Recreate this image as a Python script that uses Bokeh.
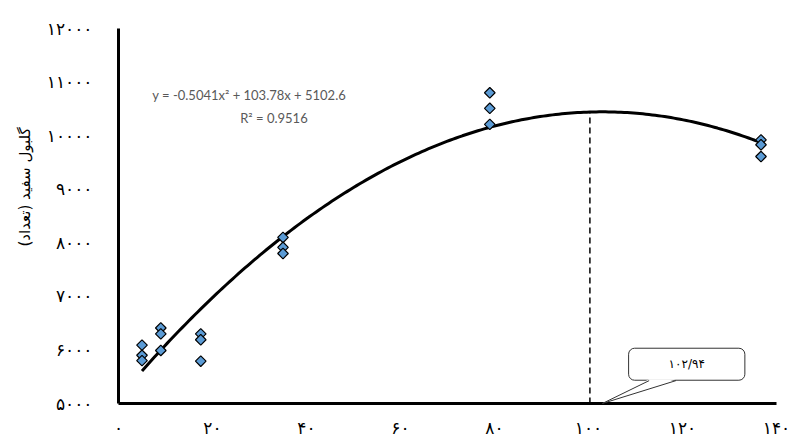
import numpy as np
from bokeh.plotting import figure
from bokeh.models import Label, FixedTicker, ColumnDataSource, Title
from bokeh.embed import file_html
from bokeh.resources import INLINE

# ---- data ----
dose = [5, 5, 5, 9, 9, 9, 17.5, 17.5, 17.5, 35, 35, 35, 79, 79, 79, 136.7, 136.7, 136.7]
wbc = [6090, 5900, 5800, 6410, 6300, 5990, 6300, 6190, 5790,
       8100, 7915, 7800, 10800, 10510, 10210, 9920, 9830, 9610]

# trendline as printed on the chart: y = a x^2 + b x + c
coef_a, coef_b, coef_c = -0.5041, 103.78, 5102.6
r_squared = "0.9516"
peak_label = "۱۰۲/۹۴"
peak_x = 102.94
dashed_x = 100.3

x_ticks = [0, 20, 40, 60, 80, 100, 120, 140]
x_labels = ["۰", "۲۰", "۴۰", "۶۰", "۸۰", "۱۰۰", "۱۲۰", "۱۴۰"]
y_ticks = [5000, 6000, 7000, 8000, 9000, 10000, 11000, 12000]
y_labels = ["۵۰۰۰", "۶۰۰۰", "۷۰۰۰", "۸۰۰۰", "۹۰۰۰", "۱۰۰۰۰", "۱۱۰۰۰", "۱۲۰۰۰"]
y_title = "گلبول سفید (تعداد)"

FA_FONT = "DejaVu Sans"

p = figure(width=792, height=440, x_range=(0, 140), y_range=(5000, 12000),
           output_backend="svg", toolbar_location=None,
           min_border_left=118, min_border_right=16,
           min_border_top=28, min_border_bottom=35)
p.outline_line_color = None
p.grid.visible = False
p.background_fill_color = "white"

for ax, ticks, labels in ((p.xaxis, x_ticks, x_labels), (p.yaxis, y_ticks, y_labels)):
    ax.ticker = FixedTicker(ticks=ticks)
    ax.major_label_overrides = {t: l for t, l in zip(ticks, labels)}
    ax.axis_line_width = 3
    ax.axis_line_color = "black"
    ax.major_tick_line_color = None
    ax.minor_tick_line_color = None
    ax.major_tick_out = 0
    ax.major_tick_in = 0
    ax.minor_tick_out = 0
    ax.major_label_text_font = FA_FONT
    ax.major_label_text_font_size = "17px"
    ax.major_label_text_color = "black"
p.yaxis.major_label_standoff = 26
p.xaxis.major_label_standoff = 14

# y axis title as a side title, placed higher than centre as in the reference
p.add_layout(Title(text=y_title, align="left", offset=157, standoff=19,
                   text_font=FA_FONT, text_font_size="15px", text_font_style="normal",
                   text_color="black"), "left")

# trend line
tx = np.linspace(min(dose), max(dose), 200)
ty = coef_a * tx ** 2 + coef_b * tx + coef_c
p.line(tx, ty, line_color="black", line_width=3)

# dashed vertical line from axis to the curve peak
peak_y = coef_a * peak_x ** 2 + coef_b * peak_x + coef_c
p.segment(x0=[dashed_x], y0=[5000], x1=[dashed_x], y1=[peak_y],
          line_color="black", line_width=1.5, line_dash="6 4")

# data points
src = ColumnDataSource(dict(x=dose, y=wbc))
p.scatter("x", "y", source=src, marker="square", angle=np.pi / 4, size=7.5,
          fill_color="#5B9BD5", line_color="black", line_width=1.2)

# equation text
p.add_layout(Label(x=7.2, y=10756, text=f"y = {coef_a}x² + {coef_b}x + {coef_c}",
                   text_font="Lato", text_font_size="13px", text_color="#595959",
                   text_align="left", text_baseline="middle"))
p.add_layout(Label(x=25.9, y=10329, text=f"R² = {r_squared}",
                   text_font="Lato", text_font_size="13px", text_color="#595959",
                   text_align="left", text_baseline="middle"))

# callout
box_x, box_y = 120.9, 5733
p.add_layout(Label(x=box_x, y=box_y, x_offset=3, y_offset=-3, text=peak_label,
                   text_font=FA_FONT, text_font_size="12px", text_alpha=0,
                   text_align="center", text_baseline="middle",
                   padding=(40, 9), border_radius=6,
                   background_fill_color="#888888", background_fill_alpha=0.35))
p.add_layout(Label(x=box_x, y=box_y, text=peak_label,
                   text_font=FA_FONT, text_font_size="12px", text_color="black",
                   text_align="center", text_baseline="middle",
                   padding=(40, 9), border_radius=6,
                   background_fill_color="white", border_line_color="#333333",
                   border_line_width=1))
base_y = 5427
tail = p.patch([112.9, 118.6, peak_x], [base_y + 25, base_y + 25, 5000],
               fill_color="white", line_color=None)
tail.level = "overlay"
tail_edges = p.segment(x0=[112.9, 118.6], y0=[base_y, base_y], x1=[peak_x, peak_x], y1=[5000, 5000],
                       line_color="#333333", line_width=1)
tail_edges.level = "overlay"

open("out.html", "w").write(file_html(p, INLINE))
